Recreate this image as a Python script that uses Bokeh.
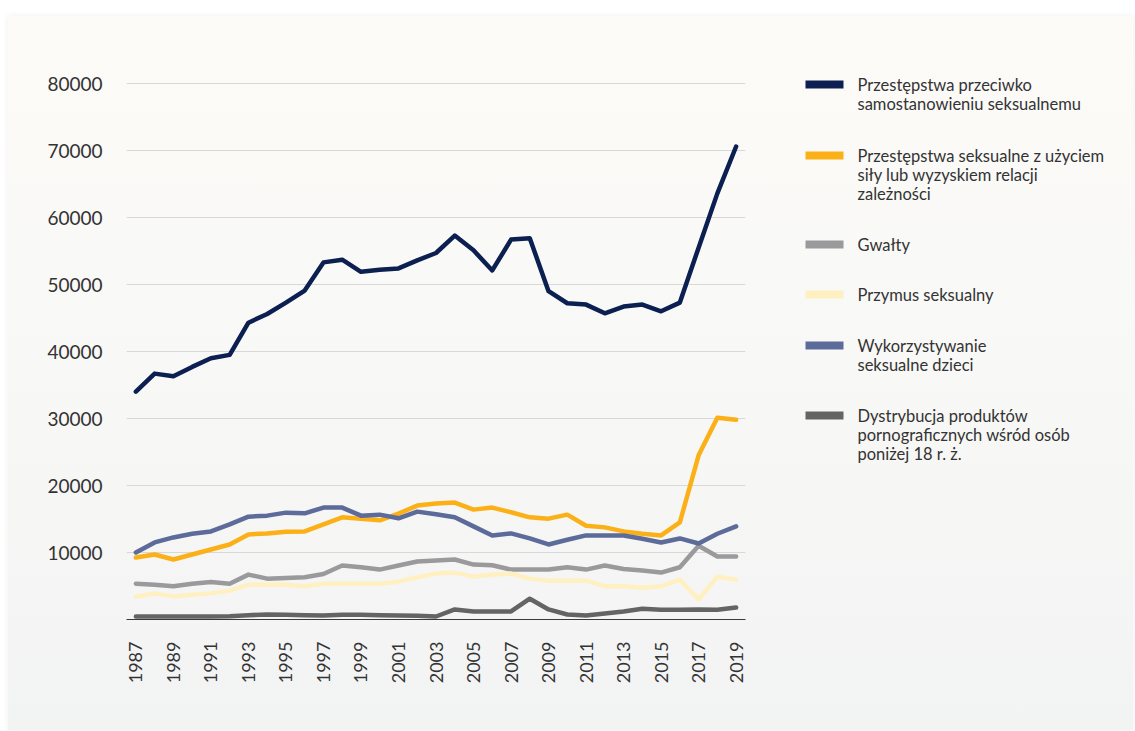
import math
from bokeh.plotting import figure
from bokeh.models import Range1d, FixedTicker, Spacer, ColumnDataSource
from bokeh.layouts import row, column
from bokeh.core.properties import value
from bokeh.embed import file_html
from bokeh.resources import INLINE

# ---------------- data ----------------
years = list(range(1987, 2020))
tick_years = list(range(1987, 2020, 2))
y_ticks = [10000, 20000, 30000, 40000, 50000, 60000, 70000, 80000]

przeciwko = [34000, 36700, 36300, 37700, 39000, 39500, 44300, 45600, 47300, 49100,
             53300, 53700, 51900, 52200, 52400, 53600, 54700, 57300, 55100, 52100,
             56700, 56900, 49000, 47200, 47000, 45700, 46700, 47000, 46000, 47300,
             55500, 63600, 70600]
sila = [9250, 9700, 8950, 9700, 10450, 11200, 12700, 12850, 13100, 13150,
        14200, 15250, 15050, 14800, 15800, 17000, 17300, 17450, 16400, 16700,
        16000, 15250, 15050, 15650, 14000, 13750, 13150, 12800, 12550, 14500,
        24500, 30100, 29800]
gwalty = [5350, 5200, 4950, 5350, 5600, 5350, 6700, 6100, 6200, 6300,
          6800, 8050, 7800, 7450, 8050, 8650, 8800, 8950, 8200, 8100,
          7450, 7450, 7450, 7800, 7450, 8050, 7550, 7300, 7000, 7800,
          11000, 9400, 9400]
przymus = [3400, 3900, 3450, 3700, 3900, 4300, 5200, 5200, 5200, 4950,
           5350, 5350, 5350, 5350, 5650, 6300, 6850, 7000, 6400, 6700,
           6850, 6100, 5800, 5800, 5800, 4950, 4950, 4750, 4950, 5950,
           3000, 6400, 5950]
dzieci = [10000, 11500, 12250, 12800, 13150, 14200, 15350, 15500, 15950, 15850,
          16700, 16700, 15500, 15650, 15100, 16100, 15700, 15250, 13900, 12550,
          12850, 12100, 11200, 11900, 12550, 12550, 12550, 12050, 11500, 12100,
          11350, 12800, 13900]
porno = [450, 450, 450, 450, 450, 500, 650, 750, 700, 650,
         600, 700, 700, 650, 600, 550, 450, 1500, 1200, 1200,
         1200, 3100, 1500, 750, 600, 900, 1200, 1600, 1450, 1450,
         1500, 1450, 1800]

labels = [
    "Przestępstwa przeciwko\nsamostanowieniu seksualnemu",
    "Przestępstwa seksualne z użyciem\nsiły lub wyzyskiem relacji\nzależności",
    "Gwałty",
    "Przymus seksualny",
    "Wykorzystywanie\nseksualne dzieci",
    "Dystrybucja produktów\npornograficznych wśród osób\nponiżej 18 r. ż.",
]
series = [przeciwko, sila, gwalty, przymus, dzieci, porno]
colors = ["#0b1f50", "#fbb018", "#9a9a9d", "#fff0c2", "#5c6b99", "#646464"]

FONT = "Lato"
TXT = "#333333"

H = 714
TOP, BOTTOM = 54, 111
FRAME_H = H - TOP - BOTTOM          # 549 px
PX_PER_UNIT = 536 / 80000           # 80000 sits 536 px above the axis
Y_END = FRAME_H / PX_PER_UNIT

# ---------------- main chart ----------------
p = figure(width=782, height=H,
           x_range=Range1d(1986.5, 2019.5), y_range=Range1d(0, Y_END),
           output_backend="svg", toolbar_location=None,
           min_border_left=118, min_border_right=45,
           min_border_top=TOP, min_border_bottom=BOTTOM)
p.border_fill_color = None
p.background_fill_color = None
p.outline_line_color = None

for vals, col in zip(series, colors):
    p.line(years, vals, line_color=col, line_width=4.5, line_join="round", line_cap="round")

p.xgrid.visible = False
p.ygrid.grid_line_color = "#d8d8d8"
p.ygrid.grid_line_width = 1.2
p.ygrid.ticker = FixedTicker(ticks=y_ticks)

p.yaxis.ticker = FixedTicker(ticks=y_ticks)
p.yaxis.axis_line_color = None
p.yaxis.major_tick_line_color = None
p.yaxis.minor_tick_line_color = None
p.yaxis.major_tick_out = 0
p.yaxis.major_label_standoff = 24
p.yaxis.major_label_text_font = FONT
p.yaxis.major_label_text_font_size = "19px"
p.yaxis.major_label_text_color = TXT

p.xaxis.ticker = FixedTicker(ticks=tick_years)
p.xaxis.axis_line_color = "#3a3a3a"
p.xaxis.axis_line_width = 1.2
p.xaxis.major_tick_line_color = None
p.xaxis.minor_tick_line_color = None
p.xaxis.major_tick_out = 0
p.xaxis.major_label_orientation = math.pi / 2
p.xaxis.major_label_standoff = 22
p.xaxis.major_label_text_font = FONT
p.xaxis.major_label_text_font_size = "18px"
p.xaxis.major_label_text_color = TXT

# ---------------- legend panel ----------------
LW = 343
frame_bottom_px = 619
leg = figure(width=LW, height=H,
             x_range=Range1d(790, 790 + LW),
             y_range=Range1d(frame_bottom_px, frame_bottom_px - FRAME_H),
             x_axis_type=None, y_axis_type=None,
             min_border_left=0, min_border_right=0,
             min_border_top=TOP, min_border_bottom=BOTTOM,
             output_backend="svg", toolbar_location=None)
leg.border_fill_color = None
leg.background_fill_color = None
leg.outline_line_color = None
leg.grid.visible = False

first_line_y = [84, 155, 244, 294, 345, 415]
line_gap = 19.3
sw = dict(left=[], right=[], top=[], bottom=[], color=[])
tx = dict(x=[], y=[], text=[])
for lab, col, y0 in zip(labels, colors, first_line_y):
    sw["left"].append(805); sw["right"].append(843)
    sw["top"].append(y0 - 4); sw["bottom"].append(y0 + 4)
    sw["color"].append(col)
    for j, ln in enumerate(lab.split("\n")):
        tx["x"].append(857); tx["y"].append(y0 + j * line_gap); tx["text"].append(ln)
leg.quad(left="left", right="right", top="top", bottom="bottom", fill_color="color",
         line_color=None, source=ColumnDataSource(sw))
leg.text(x="x", y="y", text="text", source=ColumnDataSource(tx),
         text_font=value(FONT), text_font_size="16.5px", text_color=TXT,
         text_baseline="middle", text_align="left")

card = row(p, leg, styles={
    "background": "linear-gradient(to bottom, #fcfbf8 0%, #f8f8f6 50%, #f2f3f3 100%)",
    "box-shadow": "0 0 6px rgba(0,0,0,0.07)",
})
layout = column(Spacer(height=16), row(Spacer(width=8), card))

open("out.html", "w").write(file_html(layout, INLINE))
